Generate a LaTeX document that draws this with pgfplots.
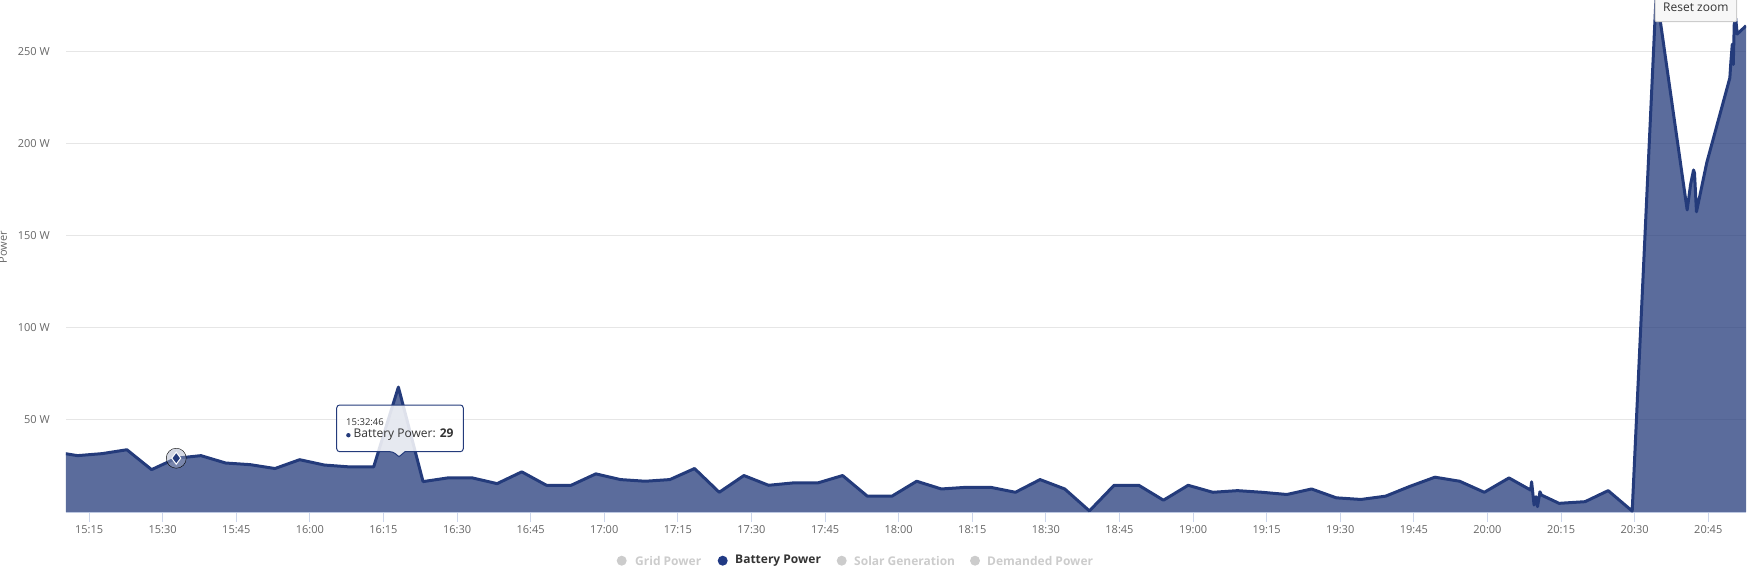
\documentclass[border=0pt]{standalone}
\usepackage{pgfplots}
\pgfplotsset{compat=1.18}
\usepackage{pgfplotstable}
\usepackage{fontspec}
\setmainfont{Open Sans}
\definecolor{seriesnavy}{RGB}{36,59,123}
\definecolor{axisblue}{RGB}{204,214,235}
\definecolor{gridgray}{RGB}{230,230,230}
\definecolor{labelgray}{RGB}{102,102,102}
\definecolor{legendgray}{RGB}{204,204,204}
\definecolor{legendnavy}{RGB}{33,58,132}
\definecolor{halo}{RGB}{160,168,192}
\definecolor{textdark}{RGB}{51,51,51}

\pgfplotstableread{
x y
907.62 32.8
912.65 30.6
917.68 31.7
922.71 33.8
927.74 23.0
932.77 29.2
937.80 30.6
942.83 26.6
947.86 25.7
952.89 23.6
957.92 28.4
962.95 25.5
967.98 24.5
973.01 24.5
978.04 67.8
983.07 16.5
988.10 18.5
993.13 18.5
998.16 15.4
1003.19 21.8
1008.22 14.5
1013.25 14.5
1018.28 20.7
1023.31 17.6
1028.34 16.7
1033.37 17.6
1038.40 23.6
1043.43 10.7
1048.46 19.8
1053.49 14.5
1058.52 15.8
1063.55 15.8
1068.58 19.8
1073.61 8.6
1078.64 8.6
1083.67 16.7
1088.70 12.5
1093.73 13.4
1098.76 13.4
1103.79 10.7
1108.82 17.6
1113.85 12.5
1118.88 0.6
1123.91 14.5
1128.94 14.5
1133.97 6.4
1139.00 14.5
1144.03 10.7
1149.06 11.6
1154.09 10.7
1159.12 9.5
1164.15 12.5
1169.18 7.7
1174.21 6.8
1179.24 8.6
1184.27 14.0
1189.30 18.9
1194.33 16.7
1199.36 10.7
1204.39 18.5
1208.8 11.9
1209.0 16.4
1209.5 3.8
1209.9 8.3
1210.2 2.9
1210.7 11.0
1211.0 9.2
1214.6 4.7
1219.9 5.6
1224.6 11.6
1229.5 0.5
1234.4 282
1240.7 164
1241.4 177.8
1242.0 185.7
1242.2 184
1242.6 163
1244.7 189.7
1249.4 235.7
1249.6 244
1249.9 254
1250.1 243
1250.3 265
1250.6 268
1250.9 259.5
1252.7 264
}\battery

\begin{document}
\begin{tikzpicture}
\begin{axis}[
  at={(0pt,0pt)}, anchor=south west,
  scale only axis, width=1680pt, height=512pt,
  xmin=910.3, xmax=1252.7, ymin=0, ymax=278,
  axis x line*=bottom, axis y line*=left,
  x axis line style={draw=axisblue, line width=1pt, -},
  y axis line style={draw=none},
  xtick={915,930,...,1245},
  xticklabels={15:15,15:30,15:45,16:00,16:15,16:30,16:45,17:00,17:15,17:30,17:45,18:00,18:15,18:30,18:45,19:00,19:15,19:30,19:45,20:00,20:15,20:30,20:45},
  xtick align=outside,
  major tick length=10pt,
  x tick style={draw=axisblue, line width=1pt},
  y tick style={draw=none},
  ytick={50,100,150,200,250},
  ymajorgrids,
  grid style={draw=gridgray, line width=1pt},
  yticklabel={\pgfmathprintnumber{\tick}~W},
  /pgf/number format/assume math mode=true,
  tick label style={font=\fontsize{11}{13}\selectfont, text=labelgray},
  y tick label style={anchor=east, inner sep=0pt, xshift=-16pt},
  x tick label style={anchor=north, inner sep=0pt, yshift=-3pt},
]
\addplot[draw=none, fill=seriesnavy, fill opacity=0.75] table[x=x,y=y]{\battery} \closedcycle;
\addplot[draw=seriesnavy, line width=3pt, line join=round] table[x=x,y=y]{\battery};
\addplot[only marks, mark=*, mark size=10pt, mark options={fill=halo, draw=none, fill opacity=0.45}] coordinates {(932.77,29.2)};
\addplot[only marks, mark=diamond*, mark size=6pt, mark options={fill=seriesnavy, draw=white, line width=1pt}] coordinates {(932.77,29.2)};
\end{axis}

% tooltip
\draw[fill=white, fill opacity=0.85, draw=seriesnavy, line width=1pt, rounded corners=3pt]
  (270.7pt,60.3pt) -- (327pt,60.3pt) [sharp corners] -- (333pt,55.3pt) -- (339pt,60.3pt) [rounded corners=3pt] -- (397.3pt,60.3pt) -- (397.3pt,107pt) -- (270.7pt,107pt) -- cycle;
\node[anchor=west, inner sep=0pt, font=\fontsize{9.5}{11}\selectfont, text=textdark] at (280pt,90.3pt) {15:32:46};
\node[anchor=west, inner sep=0pt, font=\fontsize{12}{14}\selectfont, text=textdark] at (280pt,77pt) {{\color{seriesnavy}\raisebox{0.5pt}{\tikz\fill (0,0) circle (2.2pt);}}\hspace{3pt}Battery Power: \textbf{29}};

% reset zoom button
\draw[fill=black!3, draw=legendgray, line width=1pt, rounded corners=2pt] (1589pt,490.3pt) rectangle (1670.7pt,520pt);
\node[inner sep=0pt, font=\fontsize{12}{14}\selectfont, text=textdark] at (1629.8pt,505pt) {Reset zoom};

% y label
\node[rotate=90, inner sep=0pt, font=\fontsize{11}{13}\selectfont, text=labelgray] at (-63pt,265pt) {Power};

% legend
\begin{scope}[font=\fontsize{12}{14}\selectfont\bfseries]
\fill[legendgray] (555.7pt,-48.7pt) circle (5pt);
\node[anchor=west, inner sep=0pt, text=legendgray] at (569pt,-48.7pt) {Grid Power};
\fill[legendnavy] (656.7pt,-48.7pt) circle (5pt);
\node[anchor=west, inner sep=0pt, text=textdark] at (669pt,-48.7pt) {Battery Power};
\fill[legendgray] (775.7pt,-48.7pt) circle (5pt);
\node[anchor=west, inner sep=0pt, text=legendgray] at (788pt,-48.7pt) {Solar Generation};
\fill[legendgray] (909pt,-48.7pt) circle (5pt);
\node[anchor=west, inner sep=0pt, text=legendgray] at (921pt,-48.7pt) {Demanded Power};
\end{scope}

\pgfresetboundingbox
\path[use as bounding box] (-66pt,-72pt) rectangle (1692pt,512pt);
\end{tikzpicture}
\end{document}
